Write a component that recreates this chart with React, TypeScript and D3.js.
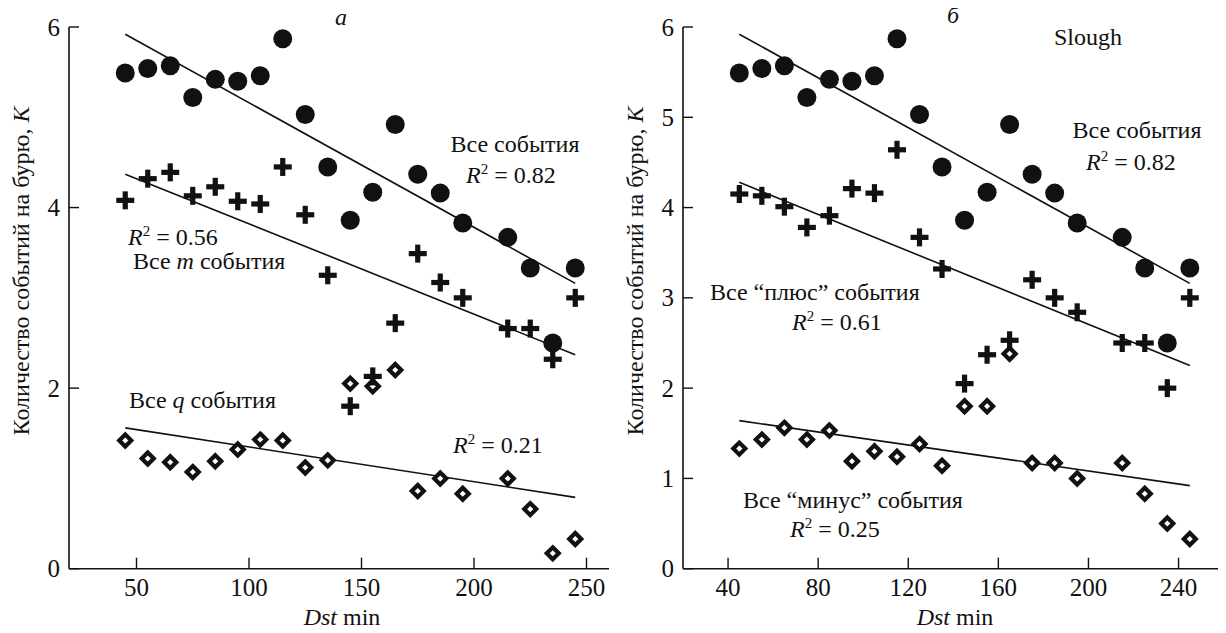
import React from "react";
import * as d3 from "d3";

const dst = [45, 55, 65, 75, 85, 95, 105, 115, 125, 135, 145, 155, 165, 175, 185, 195, 205, 215, 225, 235, 245];

const allEvents = [5.49, 5.54, 5.57, 5.22, 5.42, 5.4, 5.46, 5.87, 5.03, 4.45, 3.86, 4.17, 4.92, 4.37, 4.16, 3.83, null, 3.67, 3.33, 2.5, 3.33];
const mEvents = [4.08, 4.32, 4.39, 4.13, 4.23, 4.07, 4.04, 4.45, 3.92, 3.25, 1.8, 2.13, 2.72, 3.49, 3.17, 3.0, null, 2.66, 2.66, 2.32, 3.0];
const qEvents = [1.42, 1.22, 1.18, 1.07, 1.19, 1.32, 1.43, 1.42, 1.12, 1.2, 2.05, 2.02, 2.2, 0.86, 1.0, 0.83, null, 1.0, 0.66, 0.17, 0.33];
const plusEvents = [4.15, 4.13, 4.01, 3.78, 3.91, 4.21, 4.16, 4.64, 3.67, 3.32, 2.05, 2.37, 2.53, 3.2, 3.0, 2.84, null, 2.5, 2.5, 2.0, 3.0];
const minusEvents = [1.33, 1.43, 1.56, 1.43, 1.53, 1.19, 1.3, 1.24, 1.38, 1.14, 1.8, 1.8, 2.38, 1.17, 1.17, 1.0, null, 1.17, 0.83, 0.5, 0.33];

// trend lines: [x0, y0, x1, y1]
const trendAll = [45, 5.92, 245, 3.16];
const trendM = [45, 4.37, 245, 2.37];
const trendQ = [45, 1.56, 245, 0.79];
const trendPlus = [45, 4.28, 245, 2.25];
const trendMinus = [45, 1.64, 245, 0.92];

const leftXTicks = [50, 100, 150, 200, 250];
const leftYTicks = [0, 2, 4, 6];
const rightXTicks = [40, 80, 120, 160, 200, 240];
const rightYTicks = [0, 1, 2, 3, 4, 5, 6];

const xDomain = [20, 260];
const yDomain = [0, 6];

const FAM = "Liberation Serif";

type Sc = d3.ScaleLinear<number, number>;

function Circles({ vals, x, y }: { vals: (number | null)[]; x: Sc; y: Sc }) {
  return (
    <g>
      {vals.map((v, i) =>
        v == null ? null : <circle key={i} cx={x(dst[i])} cy={y(v)} r={9.5} fill="#111" />
      )}
    </g>
  );
}

function Pluses({ vals, x, y }: { vals: (number | null)[]; x: Sc; y: Sc }) {
  const a = 9, t = 2.6;
  return (
    <g>
      {vals.map((v, i) => {
        if (v == null) return null;
        const cx = x(dst[i]), cy = y(v);
        return (
          <g key={i} fill="#111">
            <rect x={cx - a} y={cy - t} width={2 * a} height={2 * t} />
            <rect x={cx - t} y={cy - a} width={2 * t} height={2 * a} />
          </g>
        );
      })}
    </g>
  );
}

function Diamonds({ vals, x, y }: { vals: (number | null)[]; x: Sc; y: Sc }) {
  const h = 6;
  return (
    <g>
      {vals.map((v, i) => {
        if (v == null) return null;
        const cx = x(dst[i]), cy = y(v);
        const d = `M${cx},${cy - h}L${cx + h},${cy}L${cx},${cy + h}L${cx - h},${cy}Z`;
        return <path key={i} d={d} fill="#fff" stroke="#111" strokeWidth={4.2} strokeLinejoin="miter" />;
      })}
    </g>
  );
}

function Trend({ t, x, y }: { t: number[]; x: Sc; y: Sc }) {
  const line = d3.line<[number, number]>().x((d) => x(d[0])).y((d) => y(d[1]));
  return <path d={line([[t[0], t[1]], [t[2], t[3]]]) || ""} stroke="#111" strokeWidth={1.6} fill="none" />;
}

function T(props: any) {
  const { size = 24, italic = false, children, ...rest } = props;
  return (
    <text {...rest} fontFamily={FAM} style={{ fontFamily: FAM, fontSize: size, fontStyle: italic ? "italic" : "normal" }} fill="#111">
      {children}
    </text>
  );
}

function R2({ x, y, val }: { x: number; y: number; val: string }) {
  return (
    <T x={x} y={y}>
      <tspan style={{ fontStyle: "italic" }}>R</tspan>
      <tspan style={{ fontSize: 15 }} dy={-9}>2</tspan>
      <tspan dy={9}>{" = " + val}</tspan>
    </T>
  );
}

function Axes({ x, y, xTicks, yTicks, labelX, xLabelCenter }: { x: Sc; y: Sc; xTicks: number[]; yTicks: number[]; labelX: number; xLabelCenter: number }) {
  const [x0, x1] = x.range();
  const [y0, y1] = y.range();
  return (
    <g>
      <line x1={x0} x2={x1} y1={y0} y2={y0} stroke="#111" strokeWidth={1.6} />
      <line x1={x0} x2={x0} y1={y0} y2={y1} stroke="#111" strokeWidth={1.6} />
      {xTicks.map((t) => (
        <g key={t}>
          <line x1={x(t)} x2={x(t)} y1={y0} y2={y0 - 11} stroke="#111" strokeWidth={1.4} />
          <T x={x(t)} y={596} size={25} textAnchor="middle">{t}</T>
        </g>
      ))}
      {yTicks.map((t) => (
        <g key={t}>
          <line x1={x0} x2={x0 + 10} y1={y(t)} y2={y(t)} stroke="#111" strokeWidth={1.4} />
          <T x={x0 - 9} y={y(t) + 8.5} size={25} textAnchor="end">{t}</T>
        </g>
      ))}
      <T x={xLabelCenter} y={625} textAnchor="middle">
        <tspan style={{ fontStyle: "italic" }}>Dst</tspan>
        <tspan>{" min"}</tspan>
      </T>
      <T transform={`translate(${labelX},271) rotate(-90)`} textAnchor="middle">
        <tspan>{"Количество событий на бурю, "}</tspan>
        <tspan style={{ fontStyle: "italic" }}>K</tspan>
      </T>
    </g>
  );
}

export default function App() {
  const xL = d3.scaleLinear().domain(xDomain).range([69, 609]);
  const xR = d3.scaleLinear().domain(xDomain).range([683, 1223.6]);
  const y = d3.scaleLinear().domain(yDomain).range([568.7, 27]);

  return (
    <svg width={1226} height={633} style={{ display: "block", margin: "-8px" }}>
      <rect width={1226} height={633} fill="#fff" />
      {/* Left panel */}
      <Axes x={xL} y={y} xTicks={leftXTicks} yTicks={leftYTicks} labelX={29} xLabelCenter={342} />
      <Trend t={trendAll} x={xL} y={y} />
      <Trend t={trendM} x={xL} y={y} />
      <Trend t={trendQ} x={xL} y={y} />
      <Diamonds vals={qEvents} x={xL} y={y} />
      <Pluses vals={mEvents} x={xL} y={y} />
      <Circles vals={allEvents} x={xL} y={y} />
      <T x={341} y={25} italic textAnchor="middle">а</T>
      <T x={515} y={152} textAnchor="middle">Все события</T>
      <R2 x={466} y={183} val="0.82" />
      <R2 x={128} y={245} val="0.56" />
      <T x={133} y={269}>
        <tspan>Все </tspan><tspan style={{ fontStyle: "italic" }}>m</tspan><tspan> события</tspan>
      </T>
      <T x={129} y={408}>
        <tspan>Все </tspan><tspan style={{ fontStyle: "italic" }}>q</tspan><tspan> события</tspan>
      </T>
      <R2 x={453} y={453} val="0.21" />

      {/* Right panel */}
      <Axes x={xR} y={y} xTicks={rightXTicks} yTicks={rightYTicks} labelX={643} xLabelCenter={955} />
      <Trend t={trendAll} x={xR} y={y} />
      <Trend t={trendPlus} x={xR} y={y} />
      <Trend t={trendMinus} x={xR} y={y} />
      <Diamonds vals={minusEvents} x={xR} y={y} />
      <Pluses vals={plusEvents} x={xR} y={y} />
      <Circles vals={allEvents} x={xR} y={y} />
      <T x={953} y={23} italic textAnchor="middle">б</T>
      <T x={1054} y={45}>Slough</T>
      <T x={1137} y={138} textAnchor="middle">Все события</T>
      <R2 x={1086} y={170} val="0.82" />
      <T x={710} y={300}>Все “плюс” события</T>
      <R2 x={792} y={330} val="0.61" />
      <T x={743} y={508}>Все “минус” события</T>
      <R2 x={790} y={537} val="0.25" />
    </svg>
  );
}
